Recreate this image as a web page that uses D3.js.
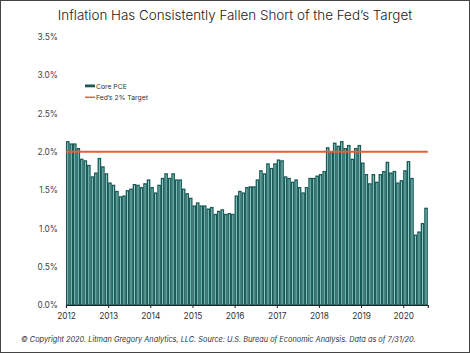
<!DOCTYPE html>
<html>
<head>
<meta charset="utf-8">
<script src="https://cdn.jsdelivr.net/npm/d3@7"></script>
<style>
  body { margin: 0; background: #fff; }
  svg { display: block; font-family: "Inter", "Roboto", sans-serif; }
</style>
</head>
<body>
<svg id="chart" width="470" height="353"></svg>
<script>
// core PCE, year over year %, monthly
let pce2012 = [2.14, 2.11, 2.11, 2.05, 1.91, 1.89, 1.83, 1.68, 1.73, 1.92, 1.81, 1.72];
let pce2013 = [1.60, 1.57, 1.49, 1.42, 1.43, 1.50, 1.52, 1.58, 1.57, 1.54, 1.59, 1.64];
let pce2014 = [1.54, 1.47, 1.57, 1.66, 1.72, 1.66, 1.72, 1.64, 1.64, 1.52, 1.46, 1.40];
let pce2015 = [1.30, 1.34, 1.30, 1.30, 1.26, 1.28, 1.19, 1.23, 1.25, 1.19, 1.20, 1.19];
let pce2016 = [1.43, 1.49, 1.47, 1.54, 1.55, 1.55, 1.64, 1.76, 1.72, 1.85, 1.79, 1.85];
let pce2017 = [1.90, 1.89, 1.68, 1.66, 1.61, 1.64, 1.54, 1.47, 1.54, 1.66, 1.66, 1.69];
let pce2018 = [1.71, 1.75, 2.06, 2.00, 2.12, 2.08, 2.14, 2.05, 2.09, 1.91, 2.05, 2.09];
let pce2019 = [1.86, 1.71, 1.59, 1.71, 1.61, 1.71, 1.75, 1.87, 1.73, 1.75, 1.60, 1.63];
let pce2020 = [1.76, 1.88, 1.66, 0.92, 0.96, 1.07, 1.27];

let fedTarget = 2.0;
let yearLabels = ["2012", "2013", "2014", "2015", "2016", "2017", "2018", "2019", "2020"];
let yTickValues = [0, 0.5, 1.0, 1.5, 2.0, 2.5, 3.0, 3.5];

let corePce = [].concat(pce2012, pce2013, pce2014, pce2015, pce2016, pce2017, pce2018, pce2019, pce2020);

// layout
let plotLeft = 66, plotRight = 427.8;
let plotTop = 37, plotBottom = 305;
let barDark = "#195956", barLight = "#8fd0ca", targetColor = "#e2622c";

let svg = d3.select("#chart");

svg.append("rect")
   .attr("x", 0.5).attr("y", 0.5)
   .attr("width", 469).attr("height", 352)
   .style("fill", "none")
   .style("stroke", "#444")
   .style("stroke-width", 1);

svg.append("text")
   .attr("x", 235).attr("y", 20)
   .attr("text-anchor", "middle")
   .style("font-size", "13.4px")
   .style("font-weight", 300)
   .style("fill", "#222")
   .text("Inflation Has Consistently Fallen Short of the Fed\u2019s Target");

// scales
let xBand = d3.scaleBand()
              .domain(d3.range(corePce.length))
              .range([plotLeft, plotRight])
              .padding(0);
let xMonth = d3.scaleLinear()
               .domain([0, corePce.length])
               .range([plotLeft, plotRight]);
let y = d3.scaleLinear()
          .domain([0, 3.5])
          .range([plotBottom, plotTop]);

// y axis labels (no line)
let yAxisG = svg.append("g")
                .attr("transform", "translate(58,0)")
                .call(d3.axisLeft(y).tickValues(yTickValues).tickSize(0).tickPadding(0)
                        .tickFormat(d => d.toFixed(1) + "%"));
yAxisG.select(".domain").remove();
yAxisG.selectAll("text")
      .style("font-family", "Inter, Roboto, sans-serif")
      .style("font-size", "8.3px")
      .style("fill", "#444");

// bars
svg.append("g")
   .selectAll("rect")
   .data(corePce)
   .join("rect")
   .attr("x", (d, i) => xBand(i) + 0.6)
   .attr("y", d => y(d) + 0.6)
   .attr("width", xBand.bandwidth() - 1.2)
   .attr("height", d => plotBottom - y(d) - 0.6)
   .style("fill", barLight)
   .style("stroke", barDark)
   .style("stroke-width", 1.3);

// x axis
let xAxisG = svg.append("g")
                .attr("transform", "translate(0," + plotBottom + ")")
                .call(d3.axisBottom(xMonth)
                        .tickValues(d3.range(0, corePce.length, 12))
                        .tickSize(3)
                        .tickPadding(5)
                        .tickFormat((d, i) => yearLabels[i]));
xAxisG.select(".domain").style("stroke", "#222").style("stroke-width", 1.2);
xAxisG.selectAll(".tick line").style("stroke", "#222");
xAxisG.selectAll("text")
      .style("font-family", "Inter, Roboto, sans-serif")
      .style("font-size", "8.3px")
      .style("fill", "#333");

// fed target line
svg.append("line")
   .attr("x1", xMonth(0)).attr("x2", xMonth(corePce.length))
   .attr("y1", y(fedTarget)).attr("y2", y(fedTarget))
   .style("stroke", targetColor)
   .style("stroke-width", 2);

// legend
let legend = svg.append("g").attr("transform", "translate(85,0)");
legend.append("rect")
      .attr("x", 0).attr("y", 84.5)
      .attr("width", 10).attr("height", 2.8)
      .style("fill", barDark);
legend.append("text")
      .attr("x", 11).attr("y", 89)
      .style("font-size", "6.8px")
      .style("fill", "#333")
      .text("Core PCE");
legend.append("line")
      .attr("x1", 0).attr("x2", 10)
      .attr("y1", 97.3).attr("y2", 97.3)
      .style("stroke", targetColor)
      .style("stroke-width", 1.5);
legend.append("text")
      .attr("x", 11).attr("y", 99.5)
      .style("font-size", "6.8px")
      .style("fill", "#333")
      .text("Fed\u2019s 2% Target");

// footer
svg.append("text")
   .attr("x", 21).attr("y", 342)
   .style("font-size", "7.35px")
   .style("font-style", "italic")
   .style("fill", "#333")
   .text("\u00a9 Copyright 2020. Litman Gregory Analytics, LLC. Source: U.S. Bureau of Economic Analysis. Data as of 7/31/20.");
</script>
</body>
</html>
